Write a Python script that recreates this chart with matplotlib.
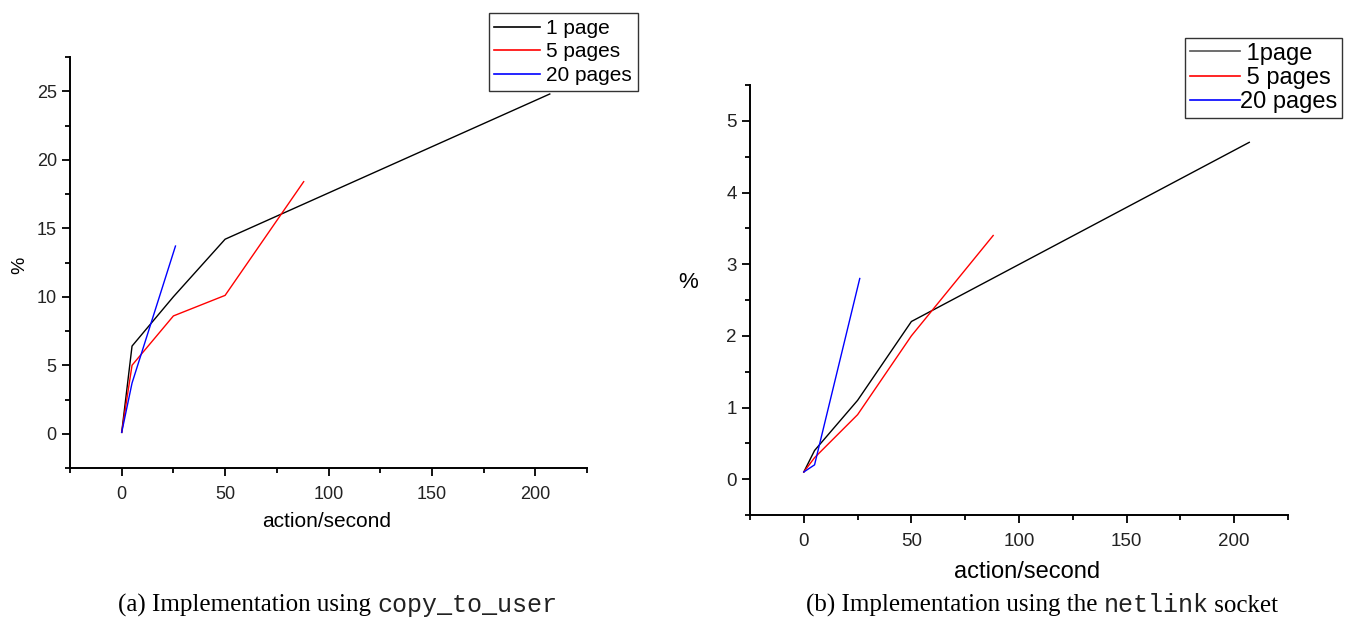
import matplotlib.pyplot as plt
from matplotlib.ticker import MultipleLocator
from matplotlib.lines import Line2D

# (a) copy_to_user
A_X_1 = [0, 5, 25, 50, 207]
A_Y_1 = [0.1, 6.4, 10.0, 14.2, 24.8]
A_X_5 = [0, 5, 25, 50, 88]
A_Y_5 = [0.1, 5.0, 8.6, 10.1, 18.4]
A_X_20 = [0, 5, 26]
A_Y_20 = [0.1, 3.7, 13.7]

# (b) netlink socket
B_X_1 = [0, 5, 25, 50, 207]
B_Y_1 = [0.1, 0.4, 1.1, 2.2, 4.7]
B_X_5 = [0, 5, 25, 50, 88]
B_Y_5 = [0.1, 0.3, 0.9, 2.0, 3.4]
B_X_20 = [0, 5, 26]
B_Y_20 = [0.1, 0.2, 2.8]

A_LABELS = ["1 page", "5 pages", "20 pages"]
B_LABELS = [" 1page", " 5 pages", "20 pages"]
CAPTION_A = ("(a) Implementation using ", "copy_to_user", "")
CAPTION_B = ("(b) Implementation using the ", "netlink", " socket")

SANS = "Liberation Sans"
SERIF = "Liberation Serif"
MONO = "Liberation Mono"
W, H = 1352, 620


def style_axes(ax, ylim, ymajor, yminor, tick_size):
    ax.spines["top"].set_visible(False)
    ax.spines["right"].set_visible(False)
    for s in ("left", "bottom"):
        ax.spines[s].set_linewidth(1.4)
    ax.set_xlim(-25, 225)
    ax.set_ylim(*ylim)
    ax.xaxis.set_major_locator(MultipleLocator(50))
    ax.xaxis.set_minor_locator(MultipleLocator(25))
    ax.yaxis.set_major_locator(MultipleLocator(ymajor))
    ax.yaxis.set_minor_locator(MultipleLocator(yminor))
    ax.tick_params(which="major", length=6, width=1.3, labelsize=tick_size)
    ax.tick_params(axis="x", which="major", pad=7)
    ax.tick_params(which="minor", length=3.5, width=1.3)
    for lab in ax.get_xticklabels() + ax.get_yticklabels():
        lab.set_fontfamily(SANS)
        lab.set_color("#222222")


def caption(fig, xc, y, parts, size=18):
    t1 = fig.text(0, y, parts[0], family=SERIF, fontsize=size, ha="left", va="baseline")
    t2 = fig.text(0, y, parts[1], family=MONO, fontsize=size, ha="left", va="baseline", color="#222222")
    t3 = fig.text(0, y, parts[2], family=SERIF, fontsize=size, ha="left", va="baseline")
    r = fig.canvas.get_renderer()
    w1 = t1.get_window_extent(r).width
    w2 = t2.get_window_extent(r).width
    w3 = t3.get_window_extent(r).width if parts[2] else 0
    x0 = xc - (w1 + w2 + w3) / 2
    t1.set_x(x0 / W)
    t2.set_x((x0 + w1) / W)
    t3.set_x((x0 + w1 + w2) / W)


def main():
    fig = plt.figure(figsize=(W / 100, H / 100), dpi=100)
    ax1 = fig.add_axes([70 / W, 1 - 468 / H, 517 / W, 411 / H])
    ax2 = fig.add_axes([750 / W, 1 - 515 / H, 538 / W, 430 / H])

    lw = 1.0
    ax1.plot(A_X_1, A_Y_1, color="black", lw=lw)
    ax1.plot(A_X_5, A_Y_5, color="red", lw=lw)
    ax1.plot(A_X_20, A_Y_20, color="blue", lw=lw)
    style_axes(ax1, (-2.5, 27.5), 5, 2.5, 13)
    ax1.set_xlabel("action/second", family=SANS, fontsize=15, va="center")
    ax1.xaxis.set_label_coords(0.497, -0.131)
    ax1.set_ylabel("%", family=SANS, fontsize=14, va="center")
    ax1.yaxis.set_label_coords(-0.098, 0.494)

    ax2.plot(B_X_1, B_Y_1, color="black", lw=lw)
    ax2.plot(B_X_5, B_Y_5, color="red", lw=lw)
    ax2.plot(B_X_20, B_Y_20, color="blue", lw=lw)
    style_axes(ax2, (-0.5, 5.5), 1, 0.5, 13.5)
    ax2.set_xlabel("action/second", family=SANS, fontsize=17, va="center")
    ax2.xaxis.set_label_coords(0.515, -0.133)
    ax2.set_ylabel("%", family=SANS, fontsize=16, rotation=0, va="center", ha="center")
    ax2.yaxis.set_label_coords(-0.115, 0.54)

    h1 = [Line2D([], [], color=c, lw=1.2) for c in ("black", "red", "blue")]
    leg1 = fig.legend(h1, A_LABELS, loc="upper right", bbox_to_anchor=(638 / W, 1 - 13 / H),
                      prop={"family": SANS, "size": 15}, fancybox=False, edgecolor="#333333",
                      framealpha=1, borderaxespad=0, handlelength=2.2, handletextpad=0.3,
                      labelspacing=0.22, borderpad=0.28)
    leg1.get_frame().set_linewidth(1.0)

    h2 = [Line2D([], [], color=c, lw=1.2) for c in ("#555555", "red", "blue")]
    leg2 = fig.legend(h2, B_LABELS, loc="upper right", bbox_to_anchor=(1342 / W, 1 - 38 / H),
                      prop={"family": SANS, "size": 17}, fancybox=False, edgecolor="#333333",
                      framealpha=1, borderaxespad=0, handlelength=2.1, handletextpad=0.02,
                      labelspacing=0.1, borderpad=0.2)
    leg2.get_frame().set_linewidth(1.0)

    caption(fig, 338, 1 - 612 / H, CAPTION_A)
    caption(fig, 1042, 1 - 612 / H, CAPTION_B)

    fig.savefig("out.png", dpi=100)


if __name__ == "__main__":
    main()
